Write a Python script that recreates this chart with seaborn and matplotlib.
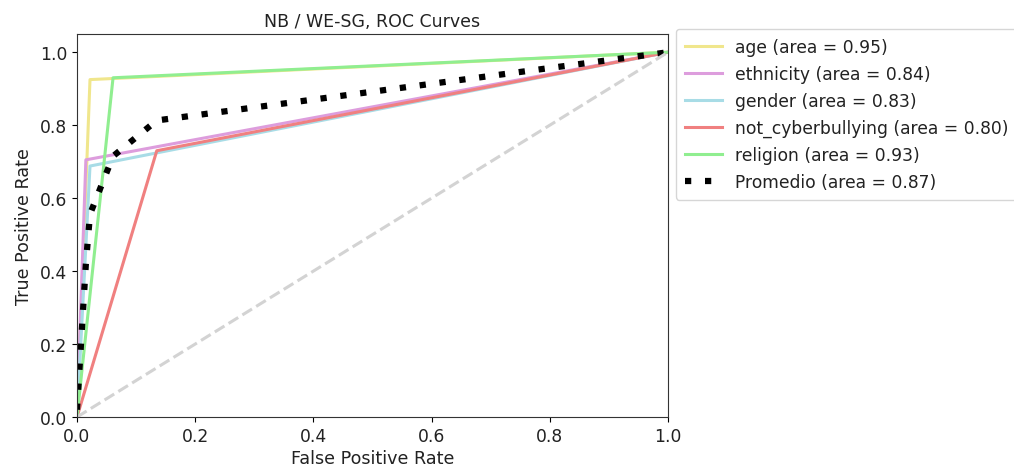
import matplotlib
matplotlib.use("Agg")
import matplotlib.pyplot as plt
import seaborn as sns
import pandas as pd

# Data
classes = ["age", "ethnicity", "gender", "not_cyberbullying", "religion"]
aucs = [0.95, 0.84, 0.83, 0.80, 0.93]
fpr_age = [0.0, 0.022, 1.0]
tpr_age = [0.0, 0.925, 1.0]
fpr_ethnicity = [0.0, 0.015, 1.0]
tpr_ethnicity = [0.0, 0.705, 1.0]
fpr_gender = [0.0, 0.022, 1.0]
tpr_gender = [0.0, 0.688, 1.0]
fpr_notcb = [0.0, 0.135, 1.0]
tpr_notcb = [0.0, 0.73, 1.0]
fpr_religion = [0.0, 0.061, 1.0]
tpr_religion = [0.0, 0.93, 1.0]
fpr_mean = [0.0, 0.015, 0.022, 0.061, 0.135, 1.0]
tpr_mean = [0.02, 0.42, 0.556, 0.715, 0.813, 1.0]
auc_mean = 0.87
colors = ["#f0e68c", "#dd9ddd", "#a8dce6", "#f08080", "#90ee90"]

fprs = [fpr_age, fpr_ethnicity, fpr_gender, fpr_notcb, fpr_religion]
tprs = [tpr_age, tpr_ethnicity, tpr_gender, tpr_notcb, tpr_religion]

plt.rcParams["axes.edgecolor"] = "#333333"
plt.rcParams["text.color"] = "#222222"
plt.rcParams["axes.labelcolor"] = "#222222"
plt.rcParams["xtick.labelcolor"] = "#222222"
plt.rcParams["ytick.labelcolor"] = "#222222"

fig = plt.figure(figsize=(10.14, 4.77), dpi=100)
ax = fig.add_axes([77/1014, 59/477, 591/1014, 383/477])

for name, a, f, t, c in zip(classes, aucs, fprs, tprs, colors):
    df = pd.DataFrame({"fpr": f, "tpr": t})
    sns.lineplot(data=df, x="fpr", y="tpr", ax=ax, color=c, lw=2.2,
                 estimator=None, sort=False,
                 label=f"{name} (area = {a:.2f})")

dfm = pd.DataFrame({"fpr": fpr_mean, "tpr": tpr_mean})
sns.lineplot(data=dfm, x="fpr", y="tpr", ax=ax, color="black", lw=4.5,
             linestyle=(0, (1, 2.2)), estimator=None, sort=False,
             label=f"Promedio (area = {auc_mean:.2f})")

dfd = pd.DataFrame({"x": [0, 1], "y": [0, 1]})
sns.lineplot(data=dfd, x="x", y="y", ax=ax, color="lightgray", lw=2.2,
             linestyle="--", estimator=None, sort=False, legend=False)

ax.set_xlim(0.0, 1.0)
ax.set_ylim(0.0, 1.05)
ax.set_xlabel("False Positive Rate", fontsize=12.6, labelpad=3)
ax.set_ylabel("True Positive Rate", fontsize=12.6, labelpad=5)
ax.set_title("NB / WE-SG, ROC Curves", fontsize=12.5)
ax.tick_params(labelsize=12.3)
leg = ax.legend(loc="upper left", bbox_to_anchor=(676/1014, 1 - 30/477),
                bbox_transform=fig.transFigure, borderaxespad=0, fontsize=12.3,
                handlelength=2.2, handletextpad=0.75, labelspacing=0.53,
                borderpad=0.5)

fig.savefig("out.png", dpi=100)
